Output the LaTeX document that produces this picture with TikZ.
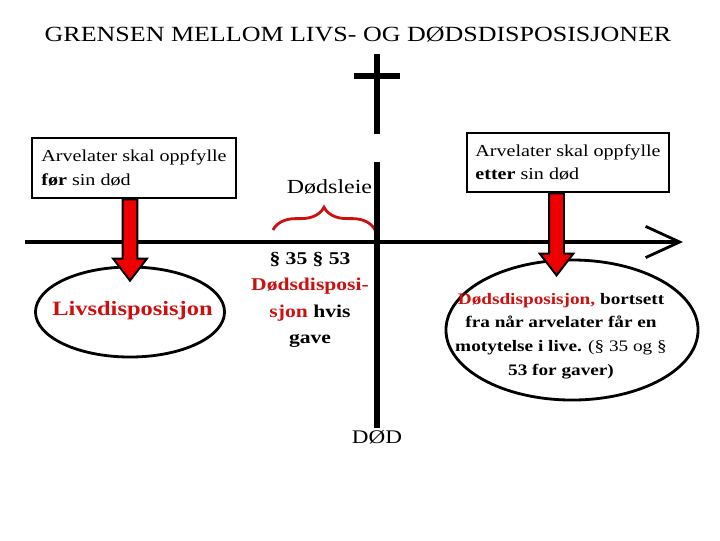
\documentclass[tikz,border=0pt]{standalone}
\usepackage{fontspec}
\setmainfont{Liberation Serif}[FakeStretch=1.2]
\usetikzlibrary{arrows.meta,positioning,shapes.geometric,decorations.pathreplacing,calc}
\definecolor{tred}{RGB}{204,16,16}
\definecolor{ared}{RGB}{238,0,0}
\newcommand{\blockarrow}[2]{%
  \draw[fatarrow] let \p1=(#1), \p2=(#2) in
    (\x2-5.3pt,\y1) -- (\x2-5.3pt,\y2+15.6pt) -- (\x2-12pt,\y2+15.6pt)
    -- (\x2,\y2) -- (\x2+12pt,\y2+15.6pt) -- (\x2+5.3pt,\y2+15.6pt)
    -- (\x2+5.3pt,\y1) -- cycle;}

\begin{document}
\begin{tikzpicture}[
x=0.025cm, y=-0.025cm,
infobox/.style={draw, line width=2pt, align=left, inner xsep=5pt, font=\fontsize{11.9}{16.5}\selectfont},
oval/.style={draw, ellipse, line width=2pt, inner sep=0pt},
fatarrow/.style={draw=black, fill=ared, line width=1.4pt, line join=miter},
timeline/.style={line width=3.5pt, -{Straight Barb[length=0.85cm, width=0.78cm, line width=2pt]}},
vaxis/.style={line width=4.3pt},
brace/.style={decorate, decoration={brace, amplitude=0.57cm}, draw=tred, line width=2pt}
]
\useasboundingbox (0,0) rectangle (720,540);
\node[anchor=base, font=\fontsize{15.4}{18}\selectfont] (title) at (358,41) {GRENSEN MELLOM LIVS- OG DØDSDISPOSISJONER};
\coordinate (ctop) at (377,54);
\coordinate (cbot) at (377,134);
\coordinate (cl) at (354,76);
\coordinate (cr) at (400,76);
\draw[vaxis] (ctop) -- (cbot) (cl) -- (cr);
\node[infobox, minimum width=5.1cm, minimum height=1.5cm] (lbox) at (134,168) {Arvelater skal oppfylle\\\textbf{før} sin død};
\node[infobox, minimum width=5.05cm, minimum height=1.475cm] (rbox) at (568,162.5) {Arvelater skal oppfylle\\\textbf{etter} sin død};
\node[anchor=base, font=\fontsize{14.2}{17}\selectfont] (leie) at (329.5,193) {Dødsleie};
\coordinate (bl) at (273,230);
\coordinate (br) at (375,230);
\draw[brace] (bl) -- (br);
\coordinate (tstart) at (25,242);
\coordinate (tend) at (683,242);
\draw[timeline] (tstart) -- (tend);
\node[anchor=base, font=\fontsize{13.7}{16}\selectfont, inner sep=1pt] (dod) at (377,443) {DØD};
\coordinate (vtop) at (377,162);
\draw[vaxis] (vtop) -- (dod.north);
\node[align=center, font=\fontsize{12.8}{18.8}\selectfont\bfseries] (mid) at (310,300) {§ 35 § 53\\{\color{tred}Dødsdisposi-}\\{\color{tred}sjon} hvis\\gave};
\node[oval, minimum width=4.725cm, minimum height=2.25cm] (lell) at (130,312) {};
\node[text=tred, font=\fontsize{14.5}{17}\selectfont\bfseries] (ltext) at (132.5,311) {Livsdisposisjon};
\node[oval, minimum width=6.3cm, minimum height=3.5cm] (rell) at (572,330) {};
\node[align=center, font=\fontsize{11.4}{16.8}\selectfont\bfseries] (rtext) at (561,336) {{\color{tred}Dødsdisposisjon,} bortsett\\fra når arvelater får en\\motytelse i live. {\mdseries(§ 35 og §}\\53 for gaver)};
\blockarrow{lbox.south}{[yshift=-10.7pt]lell.north}
\blockarrow{rbox.south}{[xshift=-11pt, yshift=-12pt]rell.north}
\end{tikzpicture}
\end{document}
